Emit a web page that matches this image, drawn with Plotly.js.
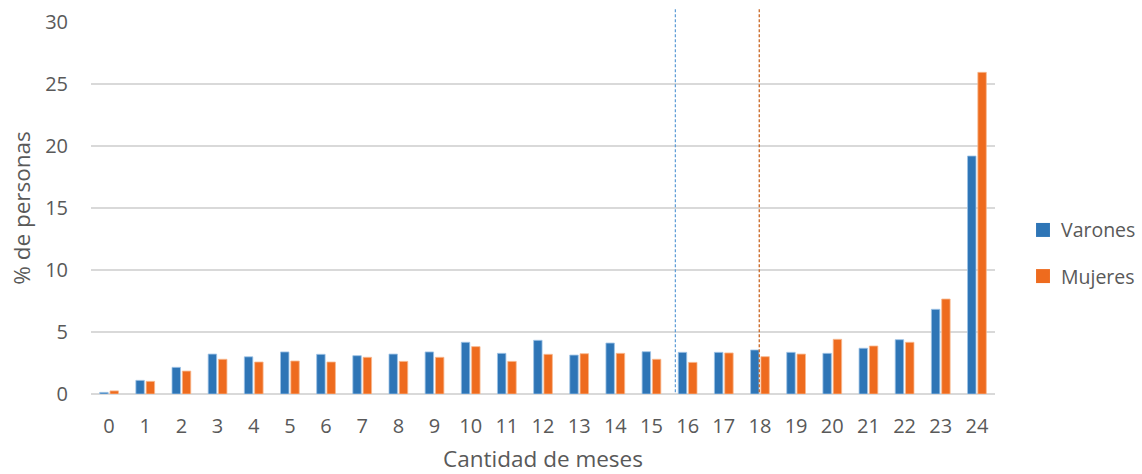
<!DOCTYPE html>
<html>
<head>
<meta charset="utf-8">
<script src="https://cdn.plot.ly/plotly-3.0.1.min.js"></script>
<style>html,body{margin:0;padding:0;background:#fff;}#chart{width:1142px;height:474px;}</style>
</head>
<body>
<div id="chart"></div>
<script>
const meses = ['0','1','2','3','4','5','6','7','8','9','10','11','12','13','14','15','16','17','18','19','20','21','22','23','24'];
const varones = [0.13,1.10,2.15,3.22,3.00,3.39,3.20,3.09,3.22,3.39,4.17,3.28,4.33,3.14,4.11,3.41,3.36,3.36,3.55,3.36,3.28,3.69,4.38,6.83,19.19];
const mujeres = [0.25,1.02,1.85,2.80,2.58,2.66,2.58,2.96,2.63,2.96,3.82,2.63,3.20,3.25,3.28,2.80,2.55,3.31,3.01,3.22,4.41,3.87,4.17,7.66,25.94];
const promedios = [15.66, 17.98]; // vertical reference lines (category index)
const serieNombres = ['Varones', 'Mujeres'];
const colores = ['#2E75B6', '#EE6B1E'];
const bordes = ['#9DC3E6', '#F8B98F'];
const lineaColores = ['#5B9BD5', '#C55A11'];

const font = "'Open Sans', 'Liberation Sans', sans-serif";
const traces = [varones, mujeres].map((vals, i) => ({
  type: 'bar',
  x: meses.map((_, k) => k),
  y: vals,
  name: serieNombres[i],
  showlegend: false,
  marker: {color: colores[i], line: {color: bordes[i], width: 0.8}},
  hoverinfo: 'x+y+name'
}));

const shapes = promedios.map((v, i) => ({
  type: 'line', xref: 'x', yref: 'paper',
  x0: v, x1: v, y0: 0.005, y1: 1.037,
  line: {color: lineaColores[i], width: 1.2, dash: '3px,2px'}
}));

// custom legend (paper coords)
const legY = [0.441, 0.317];
const annotations = [];
serieNombres.forEach((n, i) => {
  shapes.push({type: 'rect', xref: 'paper', yref: 'paper',
    x0: 1.0454, x1: 1.0608, y0: legY[i] - 0.0188, y1: legY[i] + 0.0188,
    fillcolor: colores[i], line: {width: 0}});
  annotations.push({xref: 'paper', yref: 'paper', x: 1.0705, y: legY[i],
    xanchor: 'left', yanchor: 'middle', showarrow: false, text: n,
    font: {size: 19.5, color: '#595959', family: font}});
});

const layout = {
  width: 1142, height: 474,
  margin: {l: 91, r: 147, t: 22, b: 80},
  paper_bgcolor: '#fff', plot_bgcolor: '#fff',
  font: {family: font, color: '#595959', size: 20},
  barmode: 'group', bargap: 0.43, bargroupgap: 0.18,
  showlegend: false,
  xaxis: {
    tickmode: 'array', tickvals: meses.map((_, k) => k), ticktext: meses,
    range: [-0.5, 24.5], showgrid: false, zeroline: false, showline: false,
    ticks: '', ticklabelstandoff: 18,
    tickfont: {size: 20, color: '#595959'},
    title: {text: 'Cantidad de meses', font: {size: 22.5, color: '#595959'}, standoff: 17}
  },
  yaxis: {
    range: [0, 30], tickvals: [0,5,10,15,20,25,30],
    showgrid: true, gridcolor: '#D9D9D9', gridwidth: 1.5,
    zeroline: true, zerolinecolor: '#D9D9D9', zerolinewidth: 1.5,
    showline: false, ticks: '', ticklabelstandoff: 22,
    tickfont: {size: 20, color: '#595959'},
    title: {text: '% de personas', font: {size: 22.5, color: '#595959'}, standoff: 8}
  },
  shapes: shapes,
  annotations: annotations
};

Plotly.newPlot('chart', traces, layout, {displayModeBar: false, staticPlot: true});
</script>
</body>
</html>
